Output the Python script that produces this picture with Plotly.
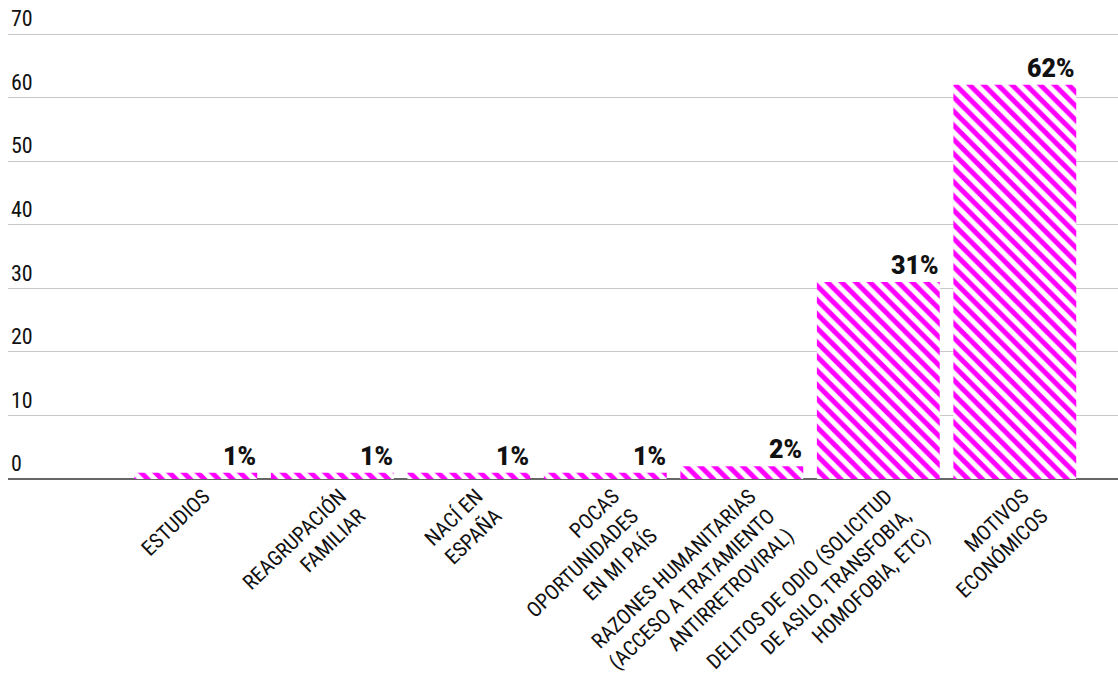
import plotly.graph_objects as go

categories = [
    "ESTUDIOS",
    "REAGRUPACIÓN<br>FAMILIAR",
    "NACÍ EN<br>ESPAÑA",
    "POCAS<br>OPORTUNIDADES<br>EN MI PAÍS",
    "RAZONES HUMANITARIAS<br>(ACCESO A TRATAMIENTO<br>ANTIRRETROVIRAL)",
    "DELITOS DE ODIO (SOLICITUD<br>DE ASILO, TRANSFOBIA,<br>HOMOFOBIA, ETC)",
    "MOTIVOS<br>ECONÓMICOS",
]
values = [1, 1, 1, 1, 2, 31, 62]
value_labels = ["1%", "1%", "1%", "1%", "2%", "31%", "62%"]
y_ticks = [0, 10, 20, 30, 40, 50, 60, 70]

MAGENTA = "#ff00ff"
COND = "Roboto Condensed, Liberation Sans Narrow, DejaVu Sans Condensed, Roboto, sans-serif"
BAR_W = 0.9

xs = list(range(len(categories)))

fig = go.Figure(
    go.Bar(
        x=xs,
        y=values,
        width=BAR_W,
        marker=dict(
            color="white",
            line=dict(width=0),
            pattern=dict(shape="\\", fgcolor=MAGENTA, bgcolor="white",
                         size=10, solidity=0.5, fillmode="replace"),
        ),
        hoverinfo="skip",
    )
)

for x, v, lab in zip(xs, values, value_labels):
    fig.add_annotation(
        x=x + BAR_W / 2, y=v, text=lab,
        xanchor="right", yanchor="bottom", showarrow=False,
        font=dict(family="Roboto, sans-serif", size=25, color="#111", weight=900),
        borderpad=0, yshift=1,
    )

fig.update_layout(
    width=1118, height=690,
    margin=dict(l=8, r=0, t=0, b=211),
    paper_bgcolor="white", plot_bgcolor="white",
    showlegend=False,
    bargap=0.1,
)
fig.update_xaxes(
    range=[-1.376, 6.756],
    tickmode="array", tickvals=xs, ticktext=categories,
    tickangle=-44,
    tickfont=dict(family=COND, size=21, color="#111"),
    ticklabelshift=8,
    showgrid=False, zeroline=False, showline=False, ticks="",
    automargin=False,
    fixedrange=True,
)
fig.update_yaxes(
    range=[0, 75.35],
    tickmode="array", tickvals=y_ticks,
    ticklabelposition="inside top",
    tickfont=dict(family=COND, size=22, color="#111"),
    showgrid=True, gridcolor="#c8c8c8", gridwidth=1,
    zeroline=True, zerolinecolor="#666", zerolinewidth=2,
    showline=False, ticks="",
    automargin=False,
    fixedrange=True,
)

fig.write_html("out.html")
